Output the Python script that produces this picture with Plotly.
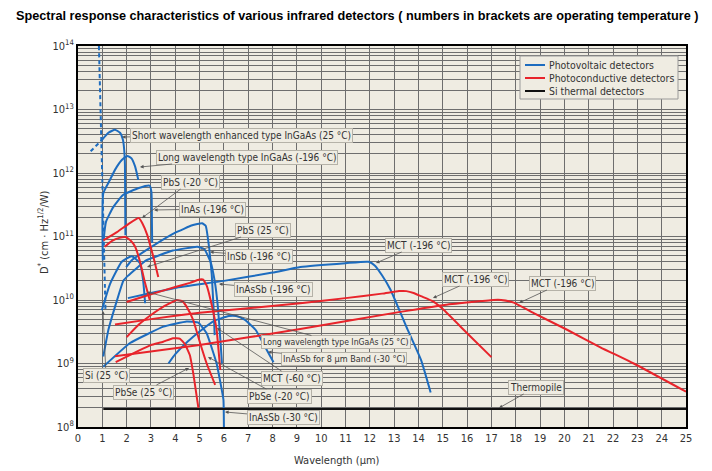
import plotly.graph_objects as go

BLUE = '#1d6cbf'
RED = '#e8242b'
BLACK = '#111111'
BG = '#efece2'
GRID = '#6e6e6e'

# ---------------- data (wavelength in um, D* in cm*Hz^1/2/W) ----------------
si_wl = [0.86, 1.0, 1.13]
si_d = [1e14, 7.8e11, 6.9e9]

sw_ingaas_dash_wl = [0.52, 0.98]
sw_ingaas_dash_d = [2.2e12, 3.3e12]
sw_ingaas_wl = [0.98, 1.25, 1.52, 1.73, 1.85, 1.9, 1.93, 1.94, 1.95]
sw_ingaas_d = [3.3e12, 4.3e12, 4.8e12, 4.3e12, 3.3e12, 2.3e12, 1.35e12, 3.7e11, 1.05e11]

lw_ingaas196_wl = [1.02, 1.04, 1.3, 1.52, 1.8, 2.03, 2.2, 2.35, 2.48]
lw_ingaas196_d = [4.2e10, 4.8e11, 7.6e11, 1.12e12, 1.6e12, 1.86e12, 1.7e12, 1.26e12, 7.8e11]

inas_wl = [1.05, 1.15, 1.45, 1.85, 2.5, 2.95, 3.02, 3.04, 3.05]
inas_d = [8.7e10, 1.7e11, 2.9e11, 4.5e11, 5.8e11, 6.3e11, 5.0e11, 1.6e11, 7.9e10]

lw_ingaas25_wl = [0.98, 1.32, 1.8, 2.21, 2.55, 2.68, 2.76]
lw_ingaas25_d = [6.9e9, 1.8e10, 4.0e10, 4.9e10, 3.8e10, 2.0e10, 8.9e9]

insb_wl = [1.98, 2.2, 3.0, 4.0, 4.7, 5.1, 5.25, 5.4, 5.5, 5.57, 5.62]
insb_d = [3.3e10, 4.2e10, 6.8e10, 1.15e11, 1.5e11, 1.62e11, 1.48e11, 6.3e10, 2.5e10, 8.0e9, 2.8e9]

inassb196_wl = [1.04, 1.25, 1.52, 1.86, 2.05, 2.8, 3.9, 4.9, 5.2, 5.45, 5.62, 5.75, 5.85, 5.92]
inassb196_d = [1.29e9, 3.4e9, 7.8e9, 2.0e10, 2.4e10, 4.2e10, 6.0e10, 6.9e10, 6.3e10, 4.0e10, 2.0e10, 7.9e9, 2.5e9, 1.0e9]

inassb30_wl = [1.04, 2.14, 3.51, 4.47, 4.95, 5.29, 5.70, 5.98, 6.0]
inassb30_d = [8.9e8, 2.1e9, 3.8e9, 4.6e9, 4.4e9, 3.0e9, 1.0e9, 2.7e8, 1.0e8]

inassb8_wl = [3.72, 4.0, 4.5, 5.0, 5.6, 6.2, 6.5, 6.85, 7.3, 7.65, 8.04]
inassb8_d = [1.0e9, 1.4e9, 2.2e9, 3.2e9, 4.7e9, 5.6e9, 5.6e9, 4.9e9, 3.4e9, 1.95e9, 1.05e9]

mct_pv_wl = [2.05, 3.0, 4.0, 6.0, 8.0, 9.14, 11.0, 11.95, 12.2, 12.5, 12.85, 13.5, 14.1, 14.5]
mct_pv_d = [1.07e10, 1.29e10, 1.55e10, 2.0e10, 2.7e10, 3.3e10, 3.8e10, 4.0e10, 3.5e10, 2.45e10, 1.45e10, 3.8e9, 1.15e9, 3.5e8]

pbs20_wl = [1.04, 1.6, 2.1, 2.5, 2.65, 2.85, 3.0, 3.15, 3.3]
pbs20_d = [8.7e10, 1.17e11, 1.6e11, 1.95e11, 1.6e11, 1.05e11, 6.6e10, 4.0e10, 2.3e10]

pbs25_wl = [1.1, 1.4, 1.7, 1.95, 2.15, 2.35, 2.55, 2.75, 2.95]
pbs25_d = [6.9e10, 8.5e10, 9.5e10, 9.8e10, 8.7e10, 6.9e10, 4.0e10, 1.9e10, 1.0e10]

mct60_wl = [2.0, 3.0, 4.0, 4.6, 5.0, 5.15, 5.3, 5.5, 5.7, 5.85]
mct60_d = [9.3e9, 1.23e10, 1.6e10, 1.86e10, 2.1e10, 2.1e10, 1.66e10, 8.3e9, 3.4e9, 7.9e8]

pbse20_wl = [2.0, 2.5, 3.0, 3.5, 4.06, 4.3, 4.47, 4.74, 5.02, 5.29, 5.64]
pbse20_d = [2.6e9, 4.1e9, 5.8e9, 7.8e9, 1.0e10, 9.5e9, 7.8e9, 4.8e9, 2.1e9, 1.0e9, 4.6e8]

pbse25_wl = [1.55, 2.5, 3.0, 3.5, 3.9, 4.2, 4.4, 4.6, 4.75, 4.95]
pbse25_d = [1.05e9, 1.6e9, 1.95e9, 2.2e9, 2.5e9, 2.45e9, 2.0e9, 1.35e9, 6.6e8, 2.0e8]

mct_pc1_wl = [1.52, 3.0, 5.0, 7.0, 9.14, 11.0, 12.5, 13.2, 13.5, 13.8, 14.1, 14.6, 15.0, 16.0, 17.0]
mct_pc1_d = [4.1e9, 5.0e9, 6.3e9, 7.4e9, 8.9e9, 1.07e10, 1.26e10, 1.38e10, 1.38e10, 1.29e10, 1.15e10, 9.5e9, 7.2e9, 3.0e9, 1.26e9]

mct_pc2_wl = [1.52, 5.0, 9.14, 13.25, 15.0, 17.08, 17.4, 17.92, 18.74, 20.11, 21.48, 22.85, 25.0]
mct_pc2_d = [1.3e9, 1.95e9, 3.5e9, 6.5e9, 8.3e9, 1.0e10, 1.0e10, 9.1e9, 6.2e9, 3.4e9, 1.8e9, 1.0e9, 3.6e8]

thermo_wl = [1.04, 25.0]
thermo_d = [1.92e8, 1.92e8]

x_ticks = list(range(0, 26))
y_ticks = [1e8, 1e9, 1e10, 1e11, 1e12, 1e13, 1e14]
y_tick_labels = ["10<sup>8</sup>", "10<sup>9</sup>", "10<sup>10</sup>", "10<sup>11</sup>",
                 "10<sup>12</sup>", "10<sup>13</sup>", "10<sup>14</sup>"]
legend_names = ["Photovoltaic detectors", "Photoconductive detectors", "Si thermal detectors"]
legend_colors = [BLUE, RED, BLACK]

# ---------------- figure ----------------
fig = go.Figure()

def add(wl, d, color, name=None, dash='solid', smooth=0.45):
    fig.add_trace(go.Scatter(
        x=wl, y=d, mode='lines',
        line=dict(color=color, width=2, dash=dash, shape='spline', smoothing=smooth),
        name=name or '', showlegend=False, hoverinfo='skip'))

# photovoltaic (blue)
add(mct_pv_wl, mct_pv_d, BLUE, legend_names[0])
add(si_wl, si_d, BLUE, dash='4px,3px')
add(sw_ingaas_dash_wl, sw_ingaas_dash_d, BLUE, dash='4px,3px')
add(sw_ingaas_wl, sw_ingaas_d, BLUE)
add(lw_ingaas196_wl, lw_ingaas196_d, BLUE)
add(inas_wl, inas_d, BLUE)
add(lw_ingaas25_wl, lw_ingaas25_d, BLUE)
add(insb_wl, insb_d, BLUE, smooth=0.3)
add(inassb196_wl, inassb196_d, BLUE, smooth=0.3)
add(inassb30_wl, inassb30_d, BLUE, smooth=0.3)
add(inassb8_wl, inassb8_d, BLUE)
# photoconductive (red)
add(mct_pc1_wl, mct_pc1_d, RED, legend_names[1])
add(mct_pc2_wl, mct_pc2_d, RED)
add(pbs20_wl, pbs20_d, RED)
add(pbs25_wl, pbs25_d, RED)
add(mct60_wl, mct60_d, RED, smooth=0.3)
add(pbse20_wl, pbse20_d, RED, smooth=0.3)
add(pbse25_wl, pbse25_d, RED, smooth=0.3)
# thermal (black)
add(thermo_wl, thermo_d, BLACK, legend_names[2])

# ---------------- layout helpers (reference pixel positions) ----------------
L, T, W, H = 78, 46, 608, 381
def fx(px):
    return (px - L) / W * 25.0
def fy(py):
    return 8 + (T + H - py) / H * 6.0
def paper_x(px):
    return (px - L) / W
def paper_y(py):
    return (T + H - py) / H

labels = [
    ("Short wavelength enhanced type InGaAs (25 °C)", 241, 135, 122, 137, 10),
    ("Long wavelength type InGaAs (-196 °C)", 247, 157, 140, 167, 10),
    ("PbS (-20 °C)", 190, 182, 142, 218, 10),
    ("InAs (-196 °C)", 212, 209, 154, 210, 10),
    ("PbS (25 °C)", 263, 230, 147, 267, 10),
    ("InSb (-196 °C)", 259, 256, 210, 252, 10),
    ("InAsSb (-196 °C)", 273, 289, 219, 284, 10),
    ("MCT (-196 °C)", 418, 245, 376, 263, 10),
    ("MCT (-196 °C)", 475, 279, 433, 298, 10),
    ("MCT (-196 °C)", 562, 283, 519, 303, 10),
    ("Long wavelength type InGaAs (25 °C)", 336, 342, 147, 292, 8.6),
    ("InAsSb for 8 µm Band (-30 °C)", 344, 359, 268, 352, 9),
    ("MCT (-60 °C)", 292, 378, 217, 328, 10),
    ("PbSe (-20 °C)", 279, 396, 208, 357, 10),
    ("InAsSb (-30 °C)", 283, 417, 225, 412, 10),
    ("Si (25 °C)", 106, 375, 103, 311, 10),
    ("PbSe (25 °C)", 143, 392, 189, 368, 10),
    ("Thermopile", 536, 387, 499, 408, 10),
]
LABEL_FONT = "DejaVu Sans Condensed, Liberation Sans, sans-serif"
annotations = []
for text, cx, cy, tx, ty, fs in labels:
    annotations.append(dict(
        text=text, x=fx(tx), y=fy(ty), ax=fx(cx), ay=fy(cy),
        xref='x', yref='y', axref='x', ayref='y',
        showarrow=True, arrowhead=2, arrowsize=0.9, arrowwidth=0.8, arrowcolor='#555555',
        font=dict(family=LABEL_FONT, size=fs, color='#333333'),
        bgcolor=BG, bordercolor='#b5b2a8', borderwidth=1, borderpad=1))

annotations.append(dict(
    text="<b>Spectral response characteristics of various infrared detectors ( numbers in brackets are operating temperature )</b>",
    x=paper_x(357), y=paper_y(16), xref='paper', yref='paper',
    showarrow=False, xanchor='center', yanchor='middle',
    font=dict(family="Liberation Sans Narrow, Arial Narrow, sans-serif", size=12.7, color='#000000')))
annotations.append(dict(
    text="Wavelength (µm)", x=paper_x(337), y=paper_y(460), xref='paper', yref='paper',
    showarrow=False, xanchor='center', yanchor='middle',
    font=dict(family=LABEL_FONT, size=11, color='#333333')))
annotations.append(dict(
    text="D<sup>*</sup> (cm · Hz<sup>1/2</sup>/W)", x=paper_x(43), y=paper_y(232),
    xref='paper', yref='paper', textangle=-90,
    showarrow=False, xanchor='center', yanchor='middle',
    font=dict(family=LABEL_FONT, size=11, color='#333333')))

# legend box (drawn as a small key)
shapes = [dict(type='rect', xref='paper', yref='paper',
               x0=paper_x(520), x1=paper_x(678), y0=paper_y(99), y1=paper_y(56),
               fillcolor=BG, line=dict(color='#9a9a9a', width=1), layer='above')]
for i, (nm, col) in enumerate(zip(legend_names, legend_colors)):
    yy = paper_y(65 + i * 13)
    shapes.append(dict(type='line', xref='paper', yref='paper',
                       x0=paper_x(525), x1=paper_x(545), y0=yy, y1=yy,
                       line=dict(color=col, width=2), layer='above'))
    annotations.append(dict(text=nm, x=paper_x(547), y=yy, xref='paper', yref='paper',
                            showarrow=False, xanchor='left', yanchor='middle',
                            font=dict(family=LABEL_FONT, size=10.4, color='#333333')))

fig.update_layout(
    width=712, height=471, autosize=False,
    margin=dict(l=L, r=712 - L - W, t=T, b=471 - T - H),
    paper_bgcolor='white', plot_bgcolor=BG,
    showlegend=False,
    annotations=annotations, shapes=shapes,
    xaxis=dict(range=[0, 25], tickvals=x_ticks, showgrid=True, gridcolor=GRID, gridwidth=1,
               showline=True, linecolor='black', linewidth=2, mirror=True, zeroline=False,
               ticks='', tickfont=dict(family=LABEL_FONT, size=11, color='#333333')),
    yaxis=dict(type='log', range=[8, 14], tickvals=y_ticks, ticktext=y_tick_labels,
               showgrid=True, gridcolor=GRID, gridwidth=1,
               minor=dict(dtick='D1', showgrid=True, gridcolor=GRID, gridwidth=1, ticks=''),
               showline=True, linecolor='black', linewidth=2, mirror=True, zeroline=False,
               ticks='', tickfont=dict(family=LABEL_FONT, size=11, color='#333333')),
)

fig.write_html("out.html")
